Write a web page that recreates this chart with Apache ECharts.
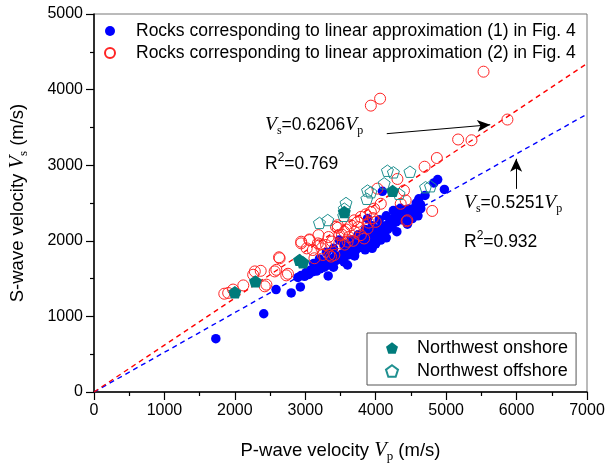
<!DOCTYPE html>
<html>
<head>
<meta charset="utf-8">
<script src="https://cdn.jsdelivr.net/npm/echarts@6/dist/echarts.min.js"></script>
<style>
  html, body { margin: 0; padding: 0; background: #fff; }
  #chart { width: 609px; height: 468px; }
</style>
</head>
<body>
<div id="chart"></div>
<script>
// Vp, Vs pairs (m/s)
const rocksLinear1 = [
  [1730,705],[2410,1035],[2585,1355],[2800,1310],[2930,1390],[3325,1535],
  [2895,1515],[2940,1540],[2990,1530],[3010,1580],[3050,1555],[3070,1610],[3100,1590],
  [3130,1640],[3160,1600],[3180,1660],[3210,1630],[3240,1690],[3270,1650],[3300,1720],
  [3330,1680],[3360,1740],[3390,1700],[3410,1780],[3440,1740],[3470,1800],[3483,2010],
  [3500,1760],[3530,1830],[3560,1790],[3580,1860],[3611,1815],[3630,1900],[3660,1850],
  [3690,1920],[3720,1880],[3740,1960],[3770,1910],[3800,2000],[3830,1950],[3860,2040],
  [3884,2294],[3890,1990],[3920,2080],[3950,2030],[3980,2120],[4010,2070],[4040,2160],
  [4072,2010],[4072,2165],[4095,2655],[4110,2110],[4140,2200],[4170,2150],[4200,2250],
  [4230,2190],[4260,2300],[4290,2250],[4308,2403],[4330,2330],[4360,2280],[4390,2370],
  [4425,2403],[4440,2330],[4470,2420],[4520,2380],[4520,2294],[4545,2430],[4575,2500],
  [4613,2556],[4637,2480],[4640,2425],[4700,2600],[4825,2765],[4880,2810],[4975,2680],
  [3300,1850],[3400,1900],[3550,1950],[3650,2010],[3750,2080],[3850,2150],[3950,2200],
  [4050,2280],[4150,2330],[4250,2400],[4350,2430],[3400,1650],[3550,1720],[3700,1800],
  [3850,1880],[4000,1960],[4150,2040],[4300,2120],[4450,2220],[4600,2330],[3200,1760],
  [3120,1700],[3600,1680],[3950,1900]
];
const rocksLinear2 = [
  [1850,1300],[1905,1310],[1975,1355],[2120,1410],[2283,1595],[2367,1603],[2260,1551],
  [2424,1398],[2448,1420],[2565,1595],[2589,1616],[2636,1769],[2730,1543],[2754,1564],
  [2627,1782],[2942,1966],[2942,1988],[3059,2018],[3060,2009],[3107,1878],[3130,1769],
  [3178,1966],[3187,2075],[3215,1953],[3249,1813],[3295,1944],[3342,1813],[3366,1791],
  [3413,1813],[3436,2185],[3460,2172],[3483,1966],[3483,2075],[3601,1988],[3648,2206],
  [3742,2250],[3460,2206],[3554,2119],[3695,2271],[3789,2316],[3884,2162],[3789,2075],
  [3836,2031],[3931,2381],[3977,2425],[4072,2490],[4025,2690],[4308,2818],[4401,2665],
  [4425,2534],[4449,2271],[4355,2490],[4439,2258],[4802,2395],[4694,2980],[4868,3095],
  [5170,3340],[5360,3330],[5870,3604],[5531,4237],[3931,3788],[4062,3880],
  [3020,1900],[3230,1900],[3330,2050],[3380,1990],[3520,2080],[3580,2150],[3620,2050],
  [3700,2120],[3750,2180],[3680,2000],[3560,1950],[3900,2240],[3960,2300],[4000,2250],[3860,2350]
];
const onshore = [[2000,1320],[2292,1464],[2918,1747],[2966,1717],[3554,2381],[4240,2660]];
const offshore = [
  [3201,2237],[3319,2275],[3578,2500],[3554,2425],[3545,2330],[3874,2556],[3884,2665],
  [3931,2643],[4120,2760],[4166,2927],[4251,2906],[4486,2914],[4331,2621],[4708,2709],[4778,2722]
];
// Fitted slopes Vs = k * Vp
const slope1 = 0.5251, r2Fit1 = 0.932;
const slope2 = 0.6206, r2Fit2 = 0.769;
const vpRange = [0, 7000];
// Arrow anchors (Vp, Vs) for fit annotations
const arrow2 = [[4157, 3417], [5626, 3535]];
const arrow1 = [[5994, 2687], [5994, 3085]];

const names = [
  'Rocks corresponding to linear approximation (1) in Fig. 4',
  'Rocks corresponding to linear approximation (2) in Fig. 4',
  'Northwest onshore',
  'Northwest offshore'
];

const pentagon = 'path://M0,-1L0.951,-0.309L0.588,0.809L-0.588,0.809L-0.951,-0.309Z';
const SANS = 'Liberation Sans, Arial, sans-serif';
const SERIF = 'Liberation Serif, Times New Roman, serif';

const fitLine = k => vpRange.map(v => [v, +(k * v).toFixed(1)]);

function richSet(base) {
  return {
    v: { fontFamily: SERIF, fontStyle: 'italic', fontSize: base + 2, color: '#000', lineHeight: 24, verticalAlign: 'middle' },
    sub: { fontFamily: SERIF, fontSize: Math.round(base * 0.7), color: '#000', lineHeight: 24, verticalAlign: 'bottom' },
    t: { fontFamily: SANS, fontSize: base, color: '#000', lineHeight: 24, verticalAlign: 'middle' },
    sup: { fontFamily: SANS, fontSize: Math.round(base * 0.68), color: '#000', lineHeight: 24, verticalAlign: 'top' }
  };
}
const richNote = richSet(17.5);
const richTitle = richSet(18.5);

const chart = echarts.init(document.getElementById('chart'), null, { renderer: 'canvas' });

const axisCommon = {
  axisLine: { show: true, onZero: false, lineStyle: { color: '#000', width: 1.5 } },
  axisTick: { show: true, inside: false, length: 8, lineStyle: { color: '#000', width: 1.2 } },
  minorTick: { show: true, splitNumber: 2, length: 4, lineStyle: { color: '#000', width: 1.2 } },
  axisLabel: { fontFamily: SANS, fontSize: 16, color: '#000', margin: 11, formatter: v => String(v) },
  splitLine: { show: false }
};

chart.setOption({
  animation: false,
  backgroundColor: '#fff',
  grid: { left: 92, right: 22, top: 14, bottom: 73, show: true, borderColor: '#777', borderWidth: 1 },
  xAxis: Object.assign({
    type: 'value', min: 0, max: 7000, interval: 1000,
    name: '{t|P-wave velocity }{v|V}{sub|p}{t| (m/s)}',
    nameLocation: 'middle', nameGap: 47,
    nameTextStyle: { rich: richTitle }
  }, axisCommon),
  yAxis: Object.assign({
    type: 'value', min: 0, max: 5000, interval: 1000,
    name: '{t|S-wave velocity }{v|V}{sub|s}{t| (m/s)}',
    nameLocation: 'middle', nameGap: 64, nameRotate: 90,
    nameTextStyle: { rich: richTitle }
  }, axisCommon),
  legend: [
    {
      data: [names[0], names[1]],
      orient: 'vertical', left: 99, top: 17,
      itemWidth: 10, itemHeight: 10, itemGap: 4,
      textStyle: { fontFamily: SANS, fontSize: 17.5, color: '#000', padding: [0, 0, 0, 16] }
    },
    {
      data: [names[2], names[3]],
      orient: 'vertical', left: 367, top: 333,
      padding: [6, 8, 5, 18],
      borderColor: '#555', borderWidth: 1,
      itemWidth: 12, itemHeight: 12, itemGap: 5,
      textStyle: { fontFamily: SANS, fontSize: 18, color: '#000', padding: [0, 0, 0, 14] }
    }
  ],
  series: [
    {
      type: 'line', data: fitLine(slope1), symbol: 'none', silent: true, z: 1,
      lineStyle: { color: '#0000ff', width: 1.4, type: [5, 4] }
    },
    {
      type: 'line', data: fitLine(slope2), symbol: 'none', silent: true, z: 1,
      lineStyle: { color: '#ff0000', width: 1.4, type: [5, 4] }
    },
    {
      name: names[0], type: 'scatter', data: rocksLinear1, z: 2,
      symbol: 'circle', symbolSize: 9.5,
      itemStyle: { color: '#0000ff', opacity: 1 }
    },
    {
      name: names[1], type: 'scatter', data: rocksLinear2, z: 3,
      symbol: 'circle', symbolSize: 11,
      itemStyle: { color: 'rgba(255,255,255,0)', borderColor: '#ff2424', borderWidth: 1, opacity: 1 }
    },
    {
      name: names[3], type: 'scatter', data: offshore, z: 4,
      symbol: pentagon, symbolSize: 12, symbolKeepAspect: true,
      itemStyle: { color: 'rgba(255,255,255,0)', borderColor: '#1f9090', borderWidth: 1, opacity: 1 }
    },
    {
      name: names[2], type: 'scatter', data: onshore, z: 5,
      symbol: pentagon, symbolSize: 13, symbolKeepAspect: true,
      itemStyle: { color: '#007b7b', opacity: 1 }
    },
    {
      type: 'line', data: [], silent: true, z: 6,
      markLine: {
        silent: true, animation: false,
        symbol: ['none', 'arrow'], symbolSize: [9, 13],
        label: { show: false },
        lineStyle: { color: '#000', width: 1, type: 'solid' },
        data: [
          [{ coord: arrow2[0] }, { coord: arrow2[1] }],
          [{ coord: arrow1[0] }, { coord: arrow1[1] }]
        ]
      }
    }
  ],
  graphic: [
    {
      type: 'text', left: 265, top: 115, z: 10,
      style: { text: '{v|V}{sub|s}{t|=' + slope2.toFixed(4) + '}{v|V}{sub|p}', rich: richNote }
    },
    {
      type: 'text', left: 265, top: 152, z: 10,
      style: { text: '{t|R}{sup|2}{t|=' + r2Fit2 + '}', rich: richNote }
    },
    {
      type: 'text', left: 464, top: 193, z: 10,
      style: { text: '{v|V}{sub|s}{t|=' + slope1.toFixed(4) + '}{v|V}{sub|p}', rich: richNote }
    },
    {
      type: 'text', left: 464, top: 230, z: 10,
      style: { text: '{t|R}{sup|2}{t|=' + r2Fit1 + '}', rich: richNote }
    }
  ]
});
</script>
</body>
</html>
